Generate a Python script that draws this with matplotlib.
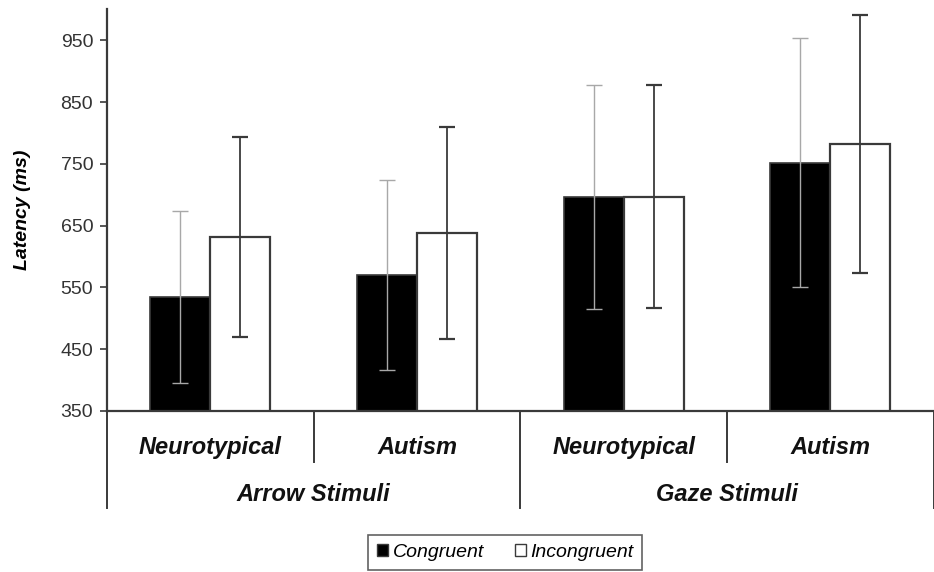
import matplotlib
matplotlib.use("Agg")
import matplotlib.pyplot as plt
from matplotlib.patches import Patch
import numpy as np

plt.rcParams['font.family'] = ['Liberation Sans', 'DejaVu Sans']

# latency means and error (ms) per group
groups = ["Neurotypical", "Autism", "Neurotypical", "Autism"]
stimuli = ["Arrow Stimuli", "Gaze Stimuli"]
congruent = [535, 570, 696, 752]
congruent_err = [139, 154, 181, 201]
incongruent = [632, 638, 697, 782]
incongruent_err = [162, 171, 181, 209]
yticks = [350, 450, 550, 650, 750, 850, 950]

fig = plt.figure(figsize=(9.34, 5.72), dpi=100)
ax = fig.add_axes([0.1146, 0.2815, 0.885, 0.702])

x = np.arange(len(groups))
w = 0.29
edge = '#3a3a3a'
ax.bar(x - w / 2, congruent, w, color='black', edgecolor=edge, linewidth=1.2, zorder=2)
ax.bar(x + w / 2, incongruent, w, color='white', edgecolor=edge, linewidth=1.6, zorder=2)
ax.errorbar(x - w / 2, congruent, yerr=congruent_err, fmt='none', ecolor='#a8a8a8',
            elinewidth=1.0, capsize=6, capthick=1.0, zorder=3)
ax.errorbar(x + w / 2, incongruent, yerr=incongruent_err, fmt='none', ecolor='#3a3a3a',
            elinewidth=1.3, capsize=6, capthick=1.6, zorder=3)

ax.set_xlim(-0.5, len(groups) - 0.5)
ax.set_ylim(350, 1000)
ax.set_yticks(yticks)
ax.set_yticklabels([str(t) for t in yticks], fontsize=14, color='#333333')
ax.tick_params(axis='y', direction='out', length=5, width=1.2, color='#3a3a3a', pad=5)
ax.set_xticks([])
for s in ['top', 'right']:
    ax.spines[s].set_visible(False)
for s in ['left', 'bottom']:
    ax.spines[s].set_color('#3a3a3a')
    ax.spines[s].set_linewidth(1.6)

ax.set_ylabel("Latency (ms)", fontsize=14, fontstyle='italic', fontweight='bold')
ax.yaxis.set_label_coords(-0.092, 0.5)

# two-level category axis below the plot
tr = ax.get_xaxis_transform()
for i, g in enumerate(groups):
    ax.text(i, -0.09, g, transform=tr, ha='center', va='center', fontsize=17,
            fontstyle='italic', fontweight='bold', color='#111111')
for j, s in enumerate(stimuli):
    ax.text(2 * j + 0.5, -0.207, s, transform=tr, ha='center', va='center', fontsize=17,
            fontstyle='italic', fontweight='bold', color='#111111')
for xd in [0.5, 2.5]:
    ax.plot([xd, xd], [0, -0.127], transform=tr, color='#3a3a3a', lw=1.4, clip_on=False)
for xd in [-0.5, 1.5, 3.5]:
    ax.plot([xd, xd], [0, -0.242], transform=tr, color='#3a3a3a', lw=1.4, clip_on=False)

handles = [Patch(facecolor='black', edgecolor=edge, label='Congruent'),
           Patch(facecolor='white', edgecolor=edge, label='Incongruent')]
leg = fig.legend(handles=handles, loc='center', bbox_to_anchor=(0.541, 0.034), ncol=2,
                 frameon=True, fancybox=False, handlelength=0.55, handleheight=0.6,
                 handletextpad=0.25, columnspacing=1.6, borderpad=0.45, borderaxespad=0,
                 prop={'style': 'italic', 'size': 14})
leg.get_frame().set_edgecolor('#3a3a3a')
leg.get_frame().set_linewidth(1.2)

fig.savefig("out.png", dpi=100)
